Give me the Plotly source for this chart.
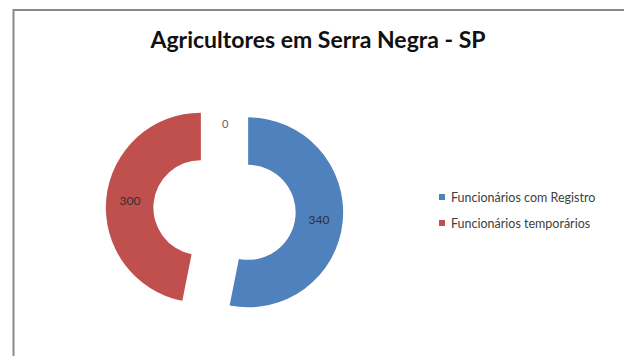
import plotly.graph_objects as go

# Dados do gráfico
categorias = ["Funcionários com Registro", "Funcionários temporários"]
valores = [340, 300]
cores = ["#4F81BD", "#C0504D"]
valor_sem_registro = 0  # rótulo de valor nulo no topo da rosca

titulo = "Agricultores em Serra Negra - SP"

W, H = 624, 356

fig = go.Figure()

fig.add_trace(go.Pie(
    labels=categorias,
    values=valores,
    marker=dict(colors=cores, line=dict(width=0)),
    hole=0.5,
    pull=[0.25, 0.25],
    sort=False,
    direction="clockwise",
    rotation=0,
    textinfo="value",
    textposition="inside",
    insidetextorientation="horizontal",
    textfont=dict(family="Lato", size=12, color="#303030"),
    domain=dict(x=[105.75 / W, 343.25 / W], y=[27.25 / H, 264.75 / H]),
    showlegend=False,
    hoverinfo="label+value",
))

# Rótulo do valor nulo
fig.add_annotation(
    x=225 / W, y=1 - 115 / H, xref="paper", yref="paper",
    text=str(valor_sem_registro), showarrow=False,
    font=dict(family="Lato", size=11, color="#606060"),
)

# Legenda desenhada à direita
leg_x, leg_y0, leg_dy = 442, 197, 26
for i, (nome, cor) in enumerate(zip(categorias, cores)):
    yc = leg_y0 + i * leg_dy
    fig.add_shape(
        type="rect", xref="paper", yref="paper",
        x0=(leg_x - 3) / W, x1=(leg_x + 3) / W,
        y0=1 - (yc + 3) / H, y1=1 - (yc - 3) / H,
        fillcolor=cor, line=dict(width=0),
    )
    fig.add_annotation(
        x=(leg_x + 7) / W, y=1 - yc / H, xref="paper", yref="paper",
        xanchor="left", yanchor="middle", text=nome, showarrow=False,
        font=dict(family="Lato", size=12.5, color="#404040"),
    )

# Moldura da área do gráfico
fig.add_shape(
    type="rect", xref="paper", yref="paper",
    x0=13.5 / W, x1=1.05, y0=-0.05, y1=1 - 10 / H,
    line=dict(color="#8a8a8a", width=2), fillcolor="rgba(0,0,0,0)",
    layer="above",
)

fig.update_layout(
    width=W, height=H,
    margin=dict(l=0, r=0, t=0, b=0),
    paper_bgcolor="white", plot_bgcolor="white",
    title=dict(
        text=f"<b>{titulo}</b>", x=318 / W, xanchor="center",
        y=1 - 40 / H, yanchor="middle",
        font=dict(family="Lato", size=23, color="#101010"),
    ),
)

fig.write_html("out.html")
